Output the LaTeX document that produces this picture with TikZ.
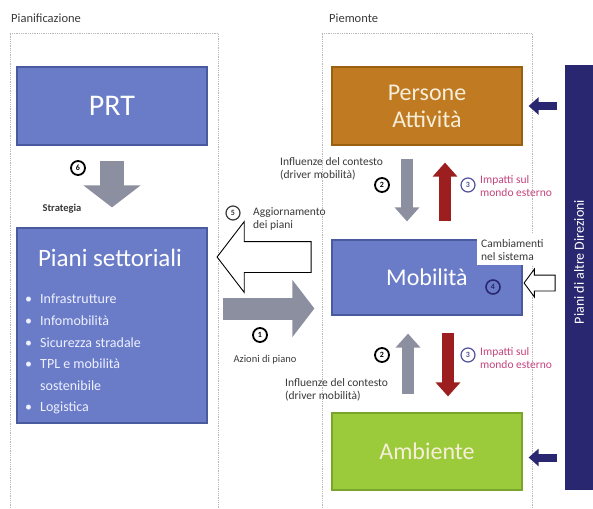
\documentclass[tikz,border=0pt]{standalone}
\usepackage{fontspec}
\setmainfont{Carlito}
\usepackage{tikz}
\usetikzlibrary{arrows.meta,positioning,calc,shapes.arrows}
\definecolor{PTBlue}{HTML}{6A7CC8}
\definecolor{PTBlueDark}{HTML}{4A5A9E}
\definecolor{PTBrown}{HTML}{BF7A22}
\definecolor{PTBrownDark}{HTML}{98600F}
\definecolor{PTGreen}{HTML}{9BCB3B}
\definecolor{PTGreenDark}{HTML}{79A52A}
\definecolor{PTCream}{HTML}{F6EED8}
\definecolor{PTNavy}{HTML}{29276F}
\definecolor{PTGray}{HTML}{8C8FA0}
\definecolor{PTRed}{HTML}{9C1E1E}
\definecolor{PTPink}{HTML}{C4447E}
\definecolor{PTCircBlue}{HTML}{52529C}
\definecolor{PTInk}{HTML}{3A3A3A}
\definecolor{PTFrame}{HTML}{B8B8B8}
\definecolor{PTList}{HTML}{EEF0FF}
\tikzset{
  box/.style={draw=PTBlueDark,line width=1.2pt,fill=PTBlue,text=white,minimum width=190pt,
              inner sep=0pt,align=center,font=\fontsize{24}{27}\selectfont},
  boxbrown/.style={box,draw=PTBrownDark,fill=PTBrown,text=PTCream},
  boxgreen/.style={box,draw=PTGreenDark,fill=PTGreen,text=PTCream},
  bar/.style={fill=PTNavy,inner sep=0pt},
  frame/.style={PTFrame,line width=0.8pt,densely dotted},
  bigflow/.style={-{Triangle[length=22pt,width=56pt]},PTGray,line width=24pt},
  smallflow/.style={-{Triangle[length=14pt,width=24pt]},PTGray,line width=12pt},
  smallflowred/.style={smallflow,PTRed},
  navyflow/.style={-{Triangle[length=10pt,width=17pt]},PTNavy,line width=8pt},
  hollow/.style={single arrow,draw=black,line width=0.9pt,fill=white,inner xsep=0pt,
                 shape border rotate=180},
  numcirc/.style={circle,draw=black,line width=1.8pt,fill=white,minimum size=14pt,inner sep=0pt,
                  font=\fontsize{8}{8}\selectfont\bfseries},
  numcircblue/.style={numcirc,draw=PTCircBlue,line width=1.2pt,text=PTCircBlue},
  note/.style={text=PTInk,font=\fontsize{11.5}{13}\selectfont,align=left,inner sep=0pt},
  notepink/.style={note,text=PTPink},
  head/.style={text=PTInk,font=\fontsize{12.5}{14}\selectfont,inner sep=0pt},
}
\begin{document}
\begin{tikzpicture}[x=1pt,y=-1pt]
    \useasboundingbox[fill=white] (0,0) rectangle (593,508);

    \draw[frame] (10,508) |- (218,33) -- (218,508);
    \draw[frame] (322,508) |- (532,33) -- (532,508);
    \node[head,anchor=west] (lblplan) at (11,18) {Pianificazione};
    \node[head,anchor=west] (lblpiem) at (329,18) {Piemonte};

    \node[box,minimum height=78pt,font=\fontsize{30}{33}\selectfont] (prt) at (112,106) {PRT};
    \node[box,minimum height=195pt] (piani) at (112,325.5) {};
    \node[text=white,font=\fontsize{25}{28}\selectfont,inner sep=0pt] (pianititle) at (110,258)
      {Piani settoriali};
    \node[text=PTList,font=\fontsize{14}{21.6}\selectfont,align=left,inner sep=0pt,anchor=north west]
      (pianilist) at (25,294)
      {\makebox[15pt][l]{\textbullet}Infrastrutture\\
       \makebox[15pt][l]{\textbullet}Infomobilità\\
       \makebox[15pt][l]{\textbullet}Sicurezza stradale\\
       \makebox[15pt][l]{\textbullet}TPL e mobilità\\
       \hspace*{15pt}sostenibile\\
       \makebox[15pt][l]{\textbullet}Logistica};

    \node[boxbrown,minimum height=78pt] (persone) at (427,106) {Persone\\Attività};
    \node[box,minimum height=75pt] (mobil) at (427,277.5) {Mobilità};
    \node[boxgreen,minimum height=77pt] (ambiente) at (427,451.5) {Ambiente};
    \node[bar,anchor=north west,minimum width=28pt,minimum height=425pt] (altre) at (565,65) {};
    \node[text=white,font=\fontsize{14}{16}\selectfont,rotate=90,inner sep=0pt] (altretext) at (579,262)
      {Piani di altre Direzioni};

    \draw[bigflow,shorten <=15pt,shorten >=20pt] (prt) -- (piani);
    \node[numcirc] (c6) at (78,168) {6};
    \node[note,font=\fontsize{10.5}{12}\selectfont\bfseries] (strat) at (62,209) {Strategia};

    \node[hollow,inner ysep=15pt,minimum height=94pt,single arrow head extend=20pt,
          single arrow tip angle=105] (upd) at (270,257) {};
    \node[numcirc,line width=1.2pt,draw=PTInk,text=PTInk] (c5) at (233,213) {5};
    \node[note] (updtext) at (253,219) [anchor=west] {Aggiornamento\\dei piani};

    \coordinate (azin) at ([yshift=17pt]piani.east);
    \draw[bigflow,line width=22pt,shorten <=15pt,shorten >=17pt] (azin) -- (azin -| mobil.west);
    \node[numcirc] (c1) at (260,335) {1};
    \node[note,font=\fontsize{10.5}{12}\selectfont] (aztext) at (265,360) {Azioni di piano};

    \draw[smallflow,shorten <=13pt,shorten >=18pt] ([xshift=-20pt]persone.south) -- ([xshift=-20pt]mobil.north);
    \draw[smallflowred,shorten <=18pt,shorten >=17pt] ([xshift=18pt]mobil.north) -- ([xshift=18pt]persone.south);
    \draw[smallflow,shorten <=18pt,shorten >=18pt] ([xshift=-19pt]ambiente.north) -- ([xshift=-19pt]mobil.south);
    \draw[smallflowred,shorten <=17pt,shorten >=16pt] ([xshift=21pt]mobil.south) -- ([xshift=21pt]ambiente.north);

    \node[note,anchor=west] (inftop) at (280,169) {Influenze del contesto\\(driver mobilità)};
    \node[numcirc] (c2a) at (382,185) {2};
    \node[numcircblue] (c3a) at (468,185) {3};
    \node[notepink,anchor=west] (imptop) at (480,186) {Impatti sul\\mondo esterno};

    \node[note,anchor=west] (infbot) at (285,390) {Influenze del contesto\\(driver mobilità)};
    \node[numcirc] (c2b) at (382,355) {2};
    \node[numcircblue] (c3b) at (468,355) {3};
    \node[notepink,anchor=west] (impbot) at (480,358) {Impatti sul\\mondo esterno};

    \node[note,fill=white,inner xsep=4pt,inner ysep=5pt,anchor=north west] (chgtext) at (477,234)
      {Cambiamenti\\nel sistema};
    \node[numcircblue,draw=PTNavy,text=PTNavy,fill=none,line width=1.6pt] (c4) at (493,287) {4};
    \node[hollow,inner ysep=7.5pt,minimum height=31pt,single arrow head extend=6pt,
          single arrow tip angle=107] (chg) at (542.5,283) {};

    \coordinate (ambin) at ([yshift=-6pt]ambiente.east);
    \draw[navyflow,shorten <=8pt,shorten >=6pt] (altre.west |- persone.east) -- (persone.east);
    \draw[navyflow,shorten <=8pt,shorten >=6pt] (altre.west |- ambin) -- (ambin);
  \end{tikzpicture}
\end{document}
